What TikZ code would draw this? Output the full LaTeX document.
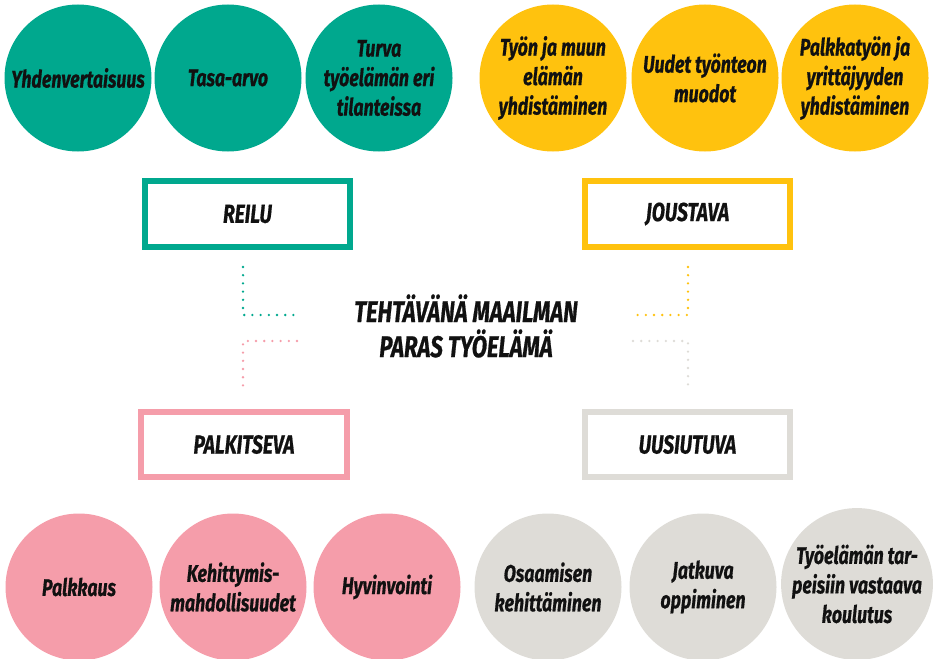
\documentclass[tikz,border=0pt]{standalone}
\usepackage{fontspec}
\setmainfont{Fira Sans}[FakeStretch=0.74, BoldItalicFeatures={FakeBold=0.6}]
\definecolor{cgreen}{HTML}{00A88E}
\definecolor{cyellow}{HTML}{FFC20E}
\definecolor{cpink}{HTML}{F59DAA}
\definecolor{cgray}{HTML}{DEDCD7}
\definecolor{ink}{HTML}{111111}
\begin{document}
\begin{tikzpicture}[x=1pt,y=-1pt,
  circ/.style={circle, minimum size=147pt, inner sep=0pt, align=center,
    font=\fontsize{24}{29.5}\selectfont\bfseries\itshape, text=ink},
  box/.style={draw, line width=6pt, minimum width=205pt, minimum height=66pt,
    inner sep=0pt, fill=white, text=ink, font=\fontsize{26}{30}\selectfont\bfseries\itshape},
  dots/.style={line width=2.6pt, line cap=round, dash pattern=on 0pt off 8.2pt}]
\useasboundingbox (0,0) rectangle (936,658);
\clip (0,0) rectangle (936,658);

% top green circles
\node[circ, fill=cgreen] (g1) at (78,78) {Yhdenvertaisuus};
\node[circ, fill=cgreen] (g2) at (228,78) {Tasa-arvo};
\node[circ, fill=cgreen] (g3) at (379,78) {Turva\\työelämän eri\\tilanteissa};
% top yellow circles
\node[circ, fill=cyellow] (y1) at (553,78) {Työn ja muun\\elämän\\yhdistäminen};
\node[circ, fill=cyellow] (y2) at (705,78) {Uudet työnteon\\muodot};
\node[circ, fill=cyellow] (y3) at (855,78) {Palkkatyön ja\\yrittäjyyden\\yhdistäminen};
% bottom pink circles
\node[circ, fill=cpink] (p1) at (79,587) {Palkkaus};
\node[circ, fill=cpink] (p2) at (233,587) {Kehittymis-\\mahdollisuudet};
\node[circ, fill=cpink] (p3) at (387,587) {Hyvinvointi};
% bottom gray circles
\node[circ, fill=cgray] (s1) at (548,587) {Osaamisen\\kehittäminen};
\node[circ, fill=cgray] (s2) at (703,587) {Jatkuva\\oppiminen};
\node[circ, fill=cgray] (s3) at (857,584) {Työelämän tar-\\peisiin vastaava\\koulutus};

% boxes
\node[box, draw=cgreen] (reilu) at (247.5,214) {REILU};
\node[box, draw=cyellow] (joustava) at (687.5,214) {JOUSTAVA};
\node[box, draw=cpink, minimum width=206pt, minimum height=65pt] (palk) at (244,444.5) {PALKITSEVA};
\node[box, draw=cgray, minimum height=65pt] (uusi) at (687.5,444.5) {UUSIUTUVA};

% center title
\node[align=center, text=ink, font=\fontsize{30}{35}\selectfont\bfseries\itshape] (title) at (466,326)
  {TEHTÄVÄNÄ MAAILMAN\\PARAS TYÖELÄMÄ};

% dotted connectors
\coordinate (ga) at (243,267); \coordinate (gb) at (243,315); \coordinate (gc) at (297,315);
\coordinate (pa) at (297,341); \coordinate (pb) at (243,341); \coordinate (pc) at (243,388);
\coordinate (ya) at (688,267); \coordinate (yb) at (688,315); \coordinate (yc) at (633,315);
\coordinate (sa) at (633,341); \coordinate (sb) at (688,341); \coordinate (sc) at (688,388);
\draw[dots, cgreen] (ga) -- (gb) -- (gc);
\draw[dots, cpink] (pa) -- (pb) -- (pc);
\draw[dots, cyellow] (ya) -- (yb) -- (yc);
\draw[dots, cgray] (sa) -- (sb) -- (sc);
\end{tikzpicture}
\end{document}
